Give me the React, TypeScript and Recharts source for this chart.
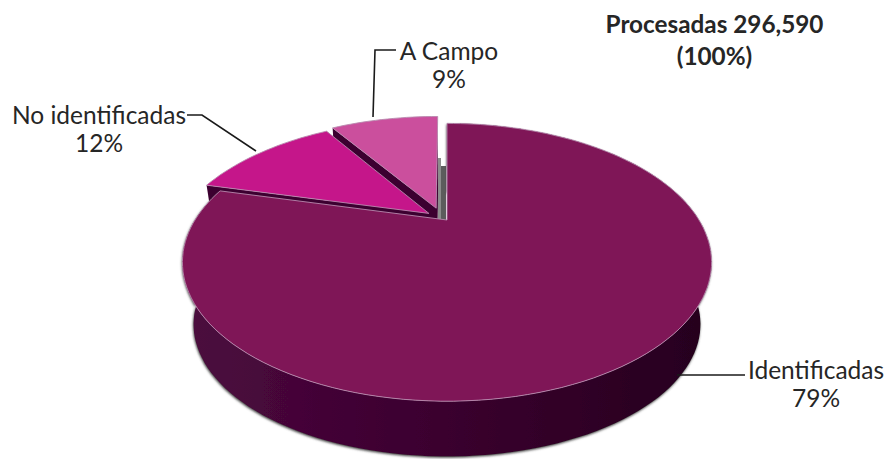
import { PieChart, Pie } from "recharts";

const names = ["A Campo", "No identificadas", "Identificadas"];
const shares = [9, 12, 79];
const colors = ["#cb4f9d", "#c5168a", "#7f1657"];
const explode = [0.1, 0.09, 0];
const nudge = [-4, 0, 0];

const rows = names.map((name, i) => ({ name, value: shares[i], fill: colors[i], explode: explode[i], nudge: nudge[i] }));

const TILT = 0.5;
const PERSP = 0.3046;
const FONT = "Lato, 'Open Sans', sans-serif";
const LABEL_SIZE = 24.5;

// where each label and its leader line go
const labelSpots: Record<string, { x: number; y: number; line: string }> = {
  "A Campo": { x: 449, y: 60, line: "373,117 375,50 396,50" },
  "No identificadas": { x: 99, y: 124, line: "187,115 202,115 256,151" },
  Identificadas: { x: 816, y: 379, line: "677,375 745,375" },
};

// circle point -> tilted plane with perspective
function project(cx: number, cy: number, r: number, u: number, v: number) {
  const w = 1 + PERSP * v;
  return { x: cx + (r * u) / w, y: cy - (r * TILT * v) / w };
}

// same point on the lower face of the disc
function lower(cx: number, cy: number, p: { x: number; y: number }) {
  return { x: cx + (p.x - cx) * 0.958, y: cy + (p.y - cy) * 0.952 + 64 };
}

const pts = (list: { x: number; y: number }[]) => list.map((p) => `${p.x.toFixed(1)},${p.y.toFixed(1)}`).join(" ");

function Slice(props: any) {
  const { cx: baseX, cy, outerRadius, startAngle, endAngle, fill, explode: off = 0, nudge: dx = 0 } = props;
  const cx = baseX + dx;
  const mid = (((startAngle + endAngle) / 2) * Math.PI) / 180;
  const ox = Math.cos(mid) * off;
  const oy = Math.sin(mid) * off;
  const rim = [];
  const steps = Math.ceil(Math.abs(endAngle - startAngle) / 2);
  for (let i = 0; i <= steps; i++) {
    const a = ((startAngle + ((endAngle - startAngle) * i) / steps) * Math.PI) / 180;
    rim.push(project(cx, cy, outerRadius, Math.cos(a) + ox, Math.sin(a) + oy));
  }
  const tip = project(cx, cy, outerRadius, ox, oy);
  const rimLow = rim.map((p) => lower(cx, cy, p));
  const tipLow = lower(cx, cy, tip);
  const isMain = off === 0;
  return (
    <g>
      <defs>
        <linearGradient id="wallGrad" x1="0" y1="0" x2="1" y2="0">
          <stop offset="0" stopColor="#4c0a3f" />
          <stop offset="0.5" stopColor="#3a002e" />
          <stop offset="1" stopColor="#26001e" />
        </linearGradient>
        <filter id="wallShadow" x="-5%" y="-5%" width="110%" height="110%">
          <feDropShadow dx="-0.5" dy="1.2" stdDeviation="1.3" floodColor="#444" floodOpacity="1" />
        </filter>
      </defs>
      {isMain && (
        <>
          <polygon points={`${cx - 9},158 ${cx - 6},158 ${cx - 6},220 ${cx - 9},220`} fill="#8c8c8c" />
          <polygon points={`${cx - 6},166 ${cx - 1},166 ${cx - 1},221 ${cx - 6},221`} fill="#5c5c5c" />
          <polygon
            points={pts([...rim, ...rimLow.slice().reverse()])}
            fill="url(#wallGrad)"
            filter="url(#wallShadow)"
          />
        </>
      )}
      {!isMain && (
        <>
          <polygon points={pts([tipLow, ...rimLow])} fill="#3c0030" />
          <polygon points={pts([tip, rim[0], rimLow[0], tipLow])} fill="#3c0030" />
          <polygon points={pts([tip, rim[rim.length - 1], rimLow[rimLow.length - 1], tipLow])} fill="#3c0030" />
        </>
      )}
      <polygon points={pts([tip, ...rim])} fill={fill} stroke="#b98aaf" strokeWidth={0.9} strokeLinejoin="round" />
    </g>
  );
}

function SliceLabel(props: any) {
  const { name, value } = props;
  const spot = labelSpots[name];
  return (
    <g>
      <polyline points={spot.line} fill="none" stroke="#1a1a1a" strokeWidth={1.6} />
      <text x={spot.x} y={spot.y} textAnchor="middle" fontFamily={FONT} fontSize={LABEL_SIZE} fill="#262626">
        {name}
      </text>
      <text x={spot.x} y={spot.y + 28} textAnchor="middle" fontFamily={FONT} fontSize={LABEL_SIZE} fill="#262626">
        {value}%
      </text>
    </g>
  );
}

export default function App() {
  return (
    <div style={{ position: "absolute", left: 0, top: 0, width: 889, height: 459 }}>
      <PieChart width={889} height={459} margin={{ top: 0, right: 0, bottom: 0, left: 0 }}>
        <Pie
          data={rows}
          dataKey="value"
          nameKey="name"
          cx={447}
          cy={220}
          outerRadius={252}
          startAngle={90}
          endAngle={450}
          stroke="none"
          shape={Slice}
          label={SliceLabel}
          labelLine={false}
          isAnimationActive={false}
        />
        <text x={714.5} y={33} textAnchor="middle" fontFamily={FONT} fontSize={24.3} fontWeight={700} fill="#262626">
          Procesadas 296,590
        </text>
        <text x={714.5} y={65} textAnchor="middle" fontFamily={FONT} fontSize={24.3} fontWeight={700} fill="#262626">
          (100%)
        </text>
      </PieChart>
    </div>
  );
}
